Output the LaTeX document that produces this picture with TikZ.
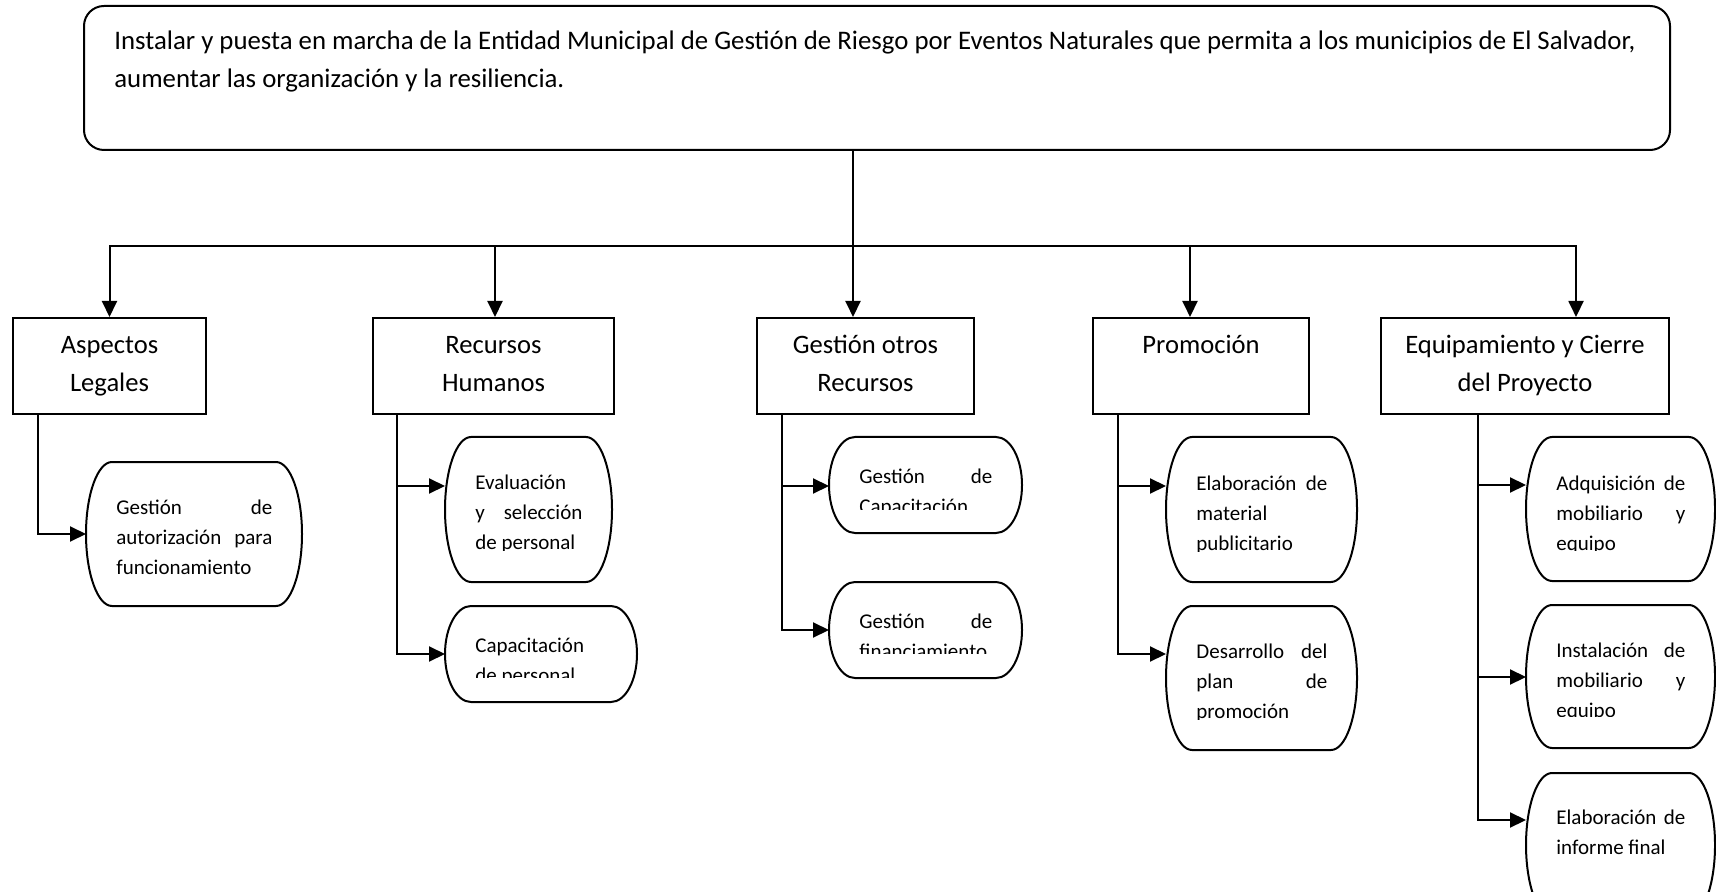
\documentclass[tikz,border=0pt]{standalone}
\usepackage{fontspec}
\setmainfont{Carlito}
\usetikzlibrary{arrows.meta,calc}
\newcommand\topfont{\fontsize{13.4}{18.7}\selectfont}
\newcommand\lvfont{\fontsize{13.3}{18.7}\selectfont}
\newcommand\lffont{\fontsize{10.5}{15}\selectfont}
\newcommand\jl[1]{\makebox[\linewidth][s]{#1}}
\newcommand\lvt[1]{\parbox[t]{200pt}{\centering\lvfont #1}}
\tikzset{
  topbox/.style={draw, line width=1pt, rounded corners=10pt, inner sep=0pt},
  l2box/.style={draw, line width=1pt, inner sep=0pt, minimum height=48pt},
  l2text/.style={anchor=base, inner sep=0pt},
  leafnode/.style={inner sep=0pt, outer sep=0pt},
  leafline/.style={line width=1pt},
  conn/.style={line width=1pt},
  arr/.style={line width=1pt, -{Triangle[length=8pt,width=7.5pt]}},
}
\newcommand\leafoutline[2]{%
  \draw[leafline] ($(#1.north west)+(26,0)$) -- ($(#1.north east)+(-26,0)$)
    .. controls ($(#1.north east)+(-11.64,0)$) and ($(#1.east)+(0,{-0.5523*#2})$) .. (#1.east)
    .. controls ($(#1.east)+(0,{0.5523*#2})$) and ($(#1.south east)+(-11.64,0)$) .. ($(#1.south east)+(-26,0)$)
    -- ($(#1.south west)+(26,0)$)
    .. controls ($(#1.south west)+(11.64,0)$) and ($(#1.west)+(0,{0.5523*#2})$) .. (#1.west)
    .. controls ($(#1.west)+(0,{-0.5523*#2})$) and ($(#1.north west)+(11.64,0)$) .. ($(#1.north west)+(26,0)$)
    -- cycle;}
\newcommand\leaf[8]{%
  \node[leafnode, minimum width={(#4-#2)*0.5pt}, minimum height={(#5-#3)*0.5pt}] (#1) at ({(#2+#4)/2},{(#3+#5)/2}) {};
  \leafoutline{#1}{(#5-#3)/2}
  \begin{scope}
    \clip (#2,#3) rectangle (#4,{#3+#7});
    \node[anchor=base west, inner sep=0pt] (#1t) at ({#2+30},{#3+#6}) {\parbox[t]{\dimexpr(#4pt-#2pt-60pt)/2\relax}{\lffont #8}};
  \end{scope}}
\begin{document}
\begin{tikzpicture}[x=0.5pt,y=-0.5pt]
\useasboundingbox (0,0) rectangle (1716,892);
\clip (0,0) rectangle (1716,892);
% top box
\node[topbox, minimum width=793pt, minimum height=72pt] (top) at (877,78) {};
\node[anchor=base west, inner sep=0pt] (toptext) at (114,50) {\parbox[t]{820pt}{\topfont Instalar y puesta en marcha de la Entidad Municipal de Gestión de Riesgo por Eventos Naturales que permita a los municipios de El Salvador,\\aumentar las organización y la resiliencia.}};
% level 2
\node[l2box, minimum width=96.5pt] (asp) at (109.5,366) {};
\node[l2box, minimum width=120.5pt] (rh) at (493.5,366) {};
\node[l2box, minimum width=108.5pt] (go) at (865.5,366) {};
\node[l2box, minimum width=108pt] (pr) at (1201,366) {};
\node[l2box, minimum width=144pt] (eq) at (1525,366) {};
\node[l2text] (aspt) at ($(asp.north)+(0,37)$) {\lvt{Aspectos\\Legales}};
\node[l2text] (rht) at ($(rh.north)+(0,37)$) {\lvt{Recursos\\Humanos}};
\node[l2text] (got) at ($(go.north)+(0,37)$) {\lvt{Gestión otros\\Recursos}};
\node[l2text] (prt) at ($(pr.north)+(0,37)$) {\lvt{Promoción}};
\node[l2text] (eqt) at ($(eq.north)+(0,37)$) {\lvt{Equipamiento y Cierre\\del Proyecto}};
% leaves
\leaf{la}{86}{462}{302}{606}{52}{113}{\jl{Gestión de}\\\jl{autorización para}\\funcionamiento}
\leaf{lb}{445}{437}{612}{582}{52}{113}{Evaluación\\\jl{y selección}\\de personal}
\leaf{lc}{445}{606}{637}{702}{46}{71}{Capacitación\\de personal}
\leaf{ld}{829}{437}{1022}{533}{46}{72}{\jl{Gestión de}\\Capacitación}
\leaf{le}{829}{582}{1022}{678}{46}{71}{\jl{Gestión de}\\financiamiento}
\leaf{lf}{1166}{437}{1357}{582}{53}{114}{\jl{Elaboración de}\\material\\publicitario}
\leaf{lg}{1166}{606}{1357}{750}{52}{113}{\jl{Desarrollo del}\\\jl{plan de}\\promoción}
\leaf{lh}{1526}{437}{1715}{581}{53}{113}{\jl{Adquisición de}\\\jl{mobiliario y}\\equipo}
\leaf{li}{1526}{605}{1715}{748}{52}{111}{\jl{Instalación de}\\\jl{mobiliario y}\\equipo}
\leaf{lj}{1526}{773}{1715}{917}{51}{120}{\jl{Elaboración de}\\informe final}
% bus
\coordinate (ja) at (109.5,246);
\coordinate (jb) at (495,246);
\coordinate (jc) at (853,246);
\coordinate (jd) at (1190,246);
\coordinate (je) at (1576,246);
\draw[conn] (top.south -| jc) -- (jc);
\draw[arr] (jc) -- (ja) -- (ja |- asp.north);
\draw[arr] (jc) -- (je) -- (je |- eq.north);
\draw[arr] (jb) -- (jb |- rh.north);
\draw[arr] (jc) -- (jc |- go.north);
\draw[arr] (jd) -- (jd |- pr.north);
% stems
\coordinate (sa) at (37.7,534);
\draw[arr] (asp.south -| sa) -- (sa) -- (sa -| la.west);
\coordinate (sb1) at (397,486);
\coordinate (sb2) at (397,654);
\draw[arr] (rh.south -| sb2) -- (sb2) -- (sb2 -| lc.west);
\draw[arr] (sb1) -- (sb1 -| lb.west);
\coordinate (sc1) at (782,486);
\coordinate (sc2) at (782,630);
\draw[arr] (go.south -| sc2) -- (sc2) -- (sc2 -| le.west);
\draw[arr] (sc1) -- (sc1 -| ld.west);
\coordinate (sd1) at (1118,486);
\coordinate (sd2) at (1118,654);
\draw[arr] (pr.south -| sd2) -- (sd2) -- (sd2 -| lg.west);
\draw[arr] (sd1) -- (sd1 -| lf.west);
\coordinate (se1) at (1478,485);
\coordinate (se2) at (1478,677);
\coordinate (se3) at (1478,820);
\draw[arr] (eq.south -| se3) -- (se3) -- (se3 -| lj.west);
\draw[arr] (se1) -- (se1 -| lh.west);
\draw[arr] (se2) -- (se2 -| li.west);
\end{tikzpicture}
\end{document}
